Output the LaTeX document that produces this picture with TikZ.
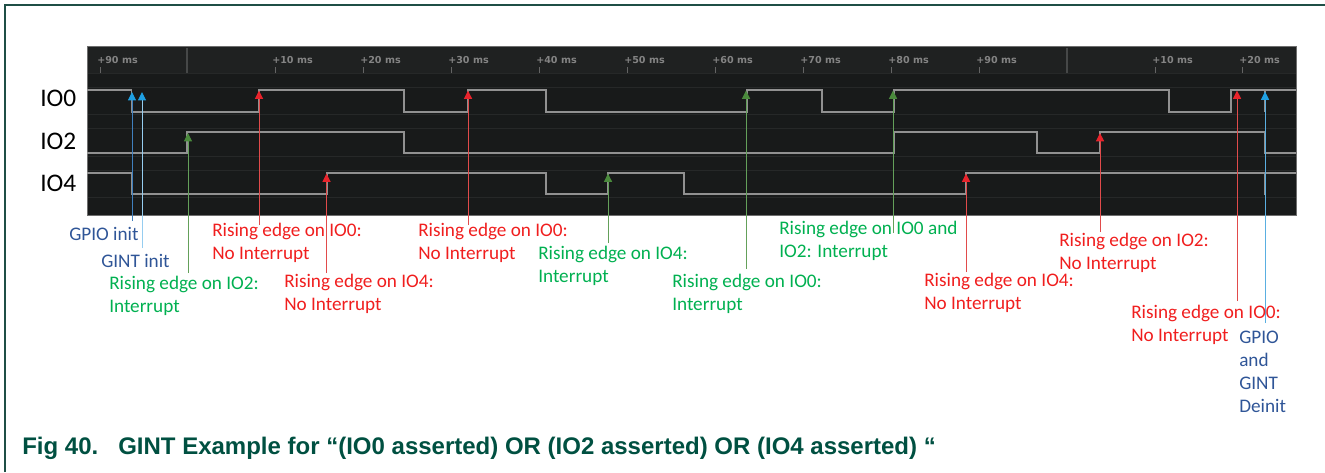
\documentclass[tikz,border=0pt]{standalone}
\usepackage{fontspec}
\setmainfont{Carlito}
\newfontfamily\capfont{Liberation Sans}
\newfontfamily\tickfont{DejaVu Sans}
\usetikzlibrary{arrows.meta}
\definecolor{framecol}{RGB}{31,79,70}
\definecolor{capcol}{RGB}{0,80,65}
\definecolor{panelcol}{RGB}{24,26,26}
\definecolor{headcol}{RGB}{31,33,33}
\definecolor{gridcol}{RGB}{38,40,40}
\definecolor{bordcol}{RGB}{110,110,110}
\definecolor{sepcol}{RGB}{70,72,72}
\definecolor{tmarkcol}{RGB}{100,100,100}
\definecolor{sigcol}{RGB}{145,145,145}
\definecolor{tickcol}{RGB}{132,132,132}
\definecolor{lblblue}{RGB}{47,85,151}
\definecolor{lblgreen}{RGB}{0,176,80}
\definecolor{lblred}{RGB}{240,30,30}
\definecolor{tipblue}{RGB}{31,160,227}
\definecolor{gpioline}{RGB}{64,128,190}
\definecolor{gintline}{RGB}{150,205,240}
\definecolor{deinitline}{RGB}{90,175,225}
\definecolor{tipgreen}{RGB}{74,138,60}
\definecolor{greenline}{RGB}{100,160,90}
\definecolor{tipred}{RGB}{232,35,43}
\definecolor{redline}{RGB}{225,75,75}
\begin{document}
\begin{tikzpicture}[x=0.75pt,y=-0.75pt,
  lbl/.style={font=\fontsize{14.4pt}{17.25pt}\selectfont, inner sep=0pt, anchor=north west, align=left},
  iolbl/.style={font=\fontsize{19pt}{23pt}\selectfont, inner sep=0pt, anchor=base west, text=black},
  ticklbl/.style={font=\tickfont\bfseries\fontsize{7.2pt}{8pt}\selectfont, inner sep=0pt, anchor=base west, text=tickcol},
  sig/.style={draw=sigcol, line width=1.15pt},
  arrbase/.style={line width=0.75pt},
  bluearr/.style={arrbase, -{Triangle[width=6pt,length=6.2pt,color=tipblue]}},
  greenarr/.style={arrbase, draw=greenline, -{Triangle[width=6pt,length=6.2pt,color=tipgreen]}},
  redarr/.style={arrbase, draw=redline, -{Triangle[width=6pt,length=6.2pt,color=tipred]}}
]
\useasboundingbox (0,0) rectangle (1325,472);
% frame
\draw[framecol, line width=1.1pt] (5,472) -- (5,5) -- (1325,5);
% panel
\fill[panelcol] (87,46) rectangle (1296,215);
\fill[headcol] (87,46) rectangle (1296,73);
\foreach \yy in {73,87,114,128,156,170,197}
  \draw[gridcol, line width=0.6pt] (87,\yy) -- (1296,\yy);
\draw[bordcol, line width=0.7pt] (87,46) rectangle (1296,215);
% separators
\foreach \xx in {187,1067}
  \draw[sepcol, line width=0.8pt] (\xx,48) -- (\xx,73);
% ticks
\foreach \xx/\tl [count=\i] in {100/+90 ms,275/+10 ms,363/+20 ms,451/+30 ms,539/+40 ms,627/+50 ms,715/+60 ms,803/+70 ms,891/+80 ms,979/+90 ms,1155/+10 ms,1242/+20 ms}{
  \draw[tmarkcol, line width=0.7pt] (\xx,67) -- (\xx,73);
  \node[ticklbl] (tk\i) at (\xx-3,63) {\tl};
}
% signal labels
\node[iolbl] (io0) at (40,106) {IO0};
\node[iolbl] (io2) at (40,149) {IO2};
\node[iolbl] (io4) at (40,191) {IO4};
% signals
\draw[sig] (87,90) -- (131.7,90) -- (131.7,112) -- (259,112) -- (259,90) -- (404,90) -- (404,112) -- (468,112) -- (468,90) -- (546,90) -- (546,112) -- (747,112) -- (747,90) -- (822,90) -- (822,112) -- (894,112) -- (894,90) -- (1169,90) -- (1169,112) -- (1231,112) -- (1231,90) -- (1296,90);
\draw[sig] (1265,90) -- (1265,112);
\draw[sig] (87,153) -- (187,153) -- (187,132) -- (404,132) -- (404,153) -- (894,153) -- (894,132) -- (1037,132) -- (1037,153) -- (1100,153) -- (1100,132) -- (1265,132) -- (1265,153) -- (1296,153);
\draw[sig] (87,173) -- (131.7,173) -- (131.7,194) -- (327,194) -- (327,173) -- (546,173) -- (546,194) -- (608,194) -- (608,173) -- (684,173) -- (684,194) -- (966,194) -- (966,173) -- (1296,173);
\draw[sig] (1265,173) -- (1265,195);
% arrow coordinates
\coordinate (t1) at (132,92);   \coordinate (b1) at (132,221);
\coordinate (t2) at (142,92);   \coordinate (b2) at (142,248);
\coordinate (t3) at (188,133);  \coordinate (b3) at (188,273);
\coordinate (t4) at (259,90.5); \coordinate (b4) at (259,225);
\coordinate (t5) at (326.5,173.5); \coordinate (b5) at (326.5,273);
\coordinate (t6) at (468,90.5); \coordinate (b6) at (468,225);
\coordinate (t7) at (608,173.5); \coordinate (b7) at (608,243);
\coordinate (t8) at (746,90.5); \coordinate (b8) at (746,269);
\coordinate (t9) at (893,90.5); \coordinate (b9) at (893,233);
\coordinate (t10) at (966,173.5); \coordinate (b10) at (966,272);
\coordinate (t11) at (1100,133); \coordinate (b11) at (1100,232);
\coordinate (t12) at (1237,90.5); \coordinate (b12) at (1237,301);
\coordinate (t13) at (1265,91.5); \coordinate (b13) at (1265,323);
% arrows
\draw[bluearr, draw=gpioline] (b1) -- (t1);
\draw[bluearr, draw=gintline] (b2) -- (t2);
\draw[greenarr] (b3) -- (t3);
\draw[redarr] (b4) -- (t4);
\draw[redarr] (b5) -- (t5);
\draw[redarr] (b6) -- (t6);
\draw[greenarr] (b7) -- (t7);
\draw[greenarr] (b8) -- (t8);
\draw[greenarr] (b9) -- (t9);
\draw[redarr] (b10) -- (t10);
\draw[redarr] (b11) -- (t11);
\draw[redarr] (b12) -- (t12);
\draw[bluearr, draw=deinitline] (b13) -- (t13);
% labels
\node[lbl, text=lblblue] (l1) at (69,223.9) {\strut GPIO init};
\node[lbl, text=lblblue] (l2) at (101,250.9) {\strut GINT init};
\node[lbl, text=lblgreen] (l3) at (109,272.9) {\strut Rising edge on IO2:\\\strut Interrupt};
\node[lbl, text=lblred] (l4) at (212,219.9) {\strut Rising edge on IO0:\\\strut No Interrupt};
\node[lbl, text=lblred] (l5) at (284,270.9) {\strut Rising edge on IO4:\\\strut No Interrupt};
\node[lbl, text=lblred] (l6) at (418,219.9) {\strut Rising edge on IO0:\\\strut No Interrupt};
\node[lbl, text=lblgreen] (l7) at (538,242.9) {\strut Rising edge on IO4:\\\strut Interrupt};
\node[lbl, text=lblgreen] (l8) at (672,270.9) {\strut Rising edge on IO0:\\\strut Interrupt};
\node[lbl, text=lblgreen] (l9) at (779,217.9) {\strut Rising edge on IO0 and\\\strut IO2: Interrupt};
\node[lbl, text=lblred] (l10) at (924,269.9) {\strut Rising edge on IO4:\\\strut No Interrupt};
\node[lbl, text=lblred] (l11) at (1059,229.9) {\strut Rising edge on IO2:\\\strut No Interrupt};
\node[lbl, text=lblred] (l12) at (1131,301.9) {\strut Rising edge on IO0:\\\strut No Interrupt};
\node[lbl, text=lblblue] (l13) at (1239,326.9) {\strut GPIO\\\strut and\\\strut GINT\\\strut Deinit};
% caption
\node[inner sep=0pt, anchor=base west, text=capcol, font=\capfont\bfseries\fontsize{18pt}{22pt}\selectfont] (cap) at (22,454) {Fig 40.\hspace{15pt}GINT Example for “(IO0 asserted) OR (IO2 asserted) OR (IO4 asserted) “};
\end{tikzpicture}
\end{document}
